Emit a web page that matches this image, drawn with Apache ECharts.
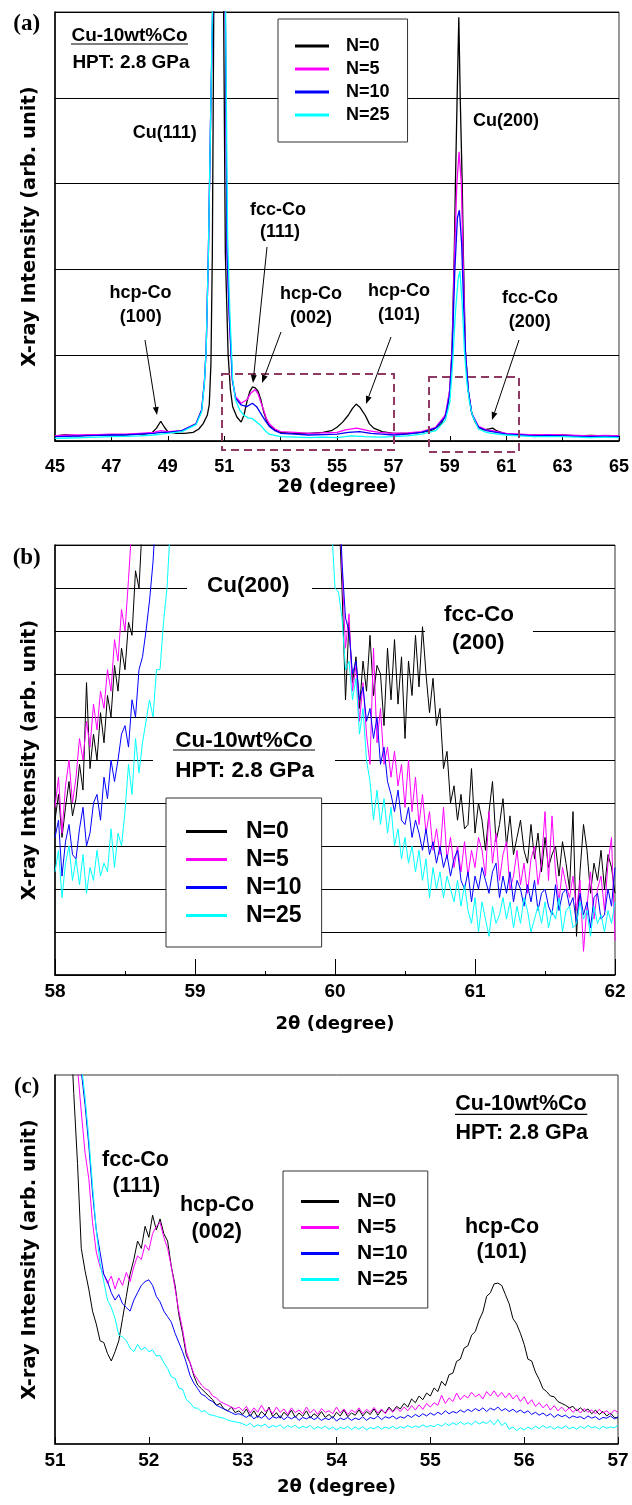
<!DOCTYPE html>
<html>
<head>
<meta charset="utf-8">
<script src="https://cdn.jsdelivr.net/npm/echarts@6.0.0/dist/echarts.min.js"></script>
<style>html,body{margin:0;padding:0;background:#fff;} #chart{width:632px;height:1505px;}</style>
</head>
<body>
<div id="chart"></div>
<script>
// series names / colours
var names = ['N=0', 'N=5', 'N=10', 'N=25'];
var colors = ['#000000', '#ff00ff', '#0000ff', '#00ffff'];

// ---- panel (a): full scan 45-65 deg, [2theta, intensity]
var aN0 = [[45.0,0.06],[45.4,0.075],[45.8,0.06],[46.2,0.07],[46.6,0.065],[47.0,0.075],[47.4,0.07],[47.8,0.08],[48.2,0.08],[48.45,0.1],[48.6,0.15],[48.75,0.23],[48.88,0.16],[49.0,0.11],[49.3,0.09],[49.6,0.09],[49.9,0.1],[50.1,0.14],[50.25,0.2],[50.4,0.3],[50.47,0.42],[50.53,0.9],[50.58,2.2],[50.63,5.0],[50.72,10],[50.82,13],[50.92,8],[50.98,5.0],[51.04,2.2],[51.14,1.0],[51.22,0.6],[51.3,0.4],[51.45,0.28],[51.6,0.22],[51.7,0.3],[51.8,0.45],[51.9,0.57],[52.0,0.63],[52.1,0.62],[52.2,0.58],[52.3,0.48],[52.4,0.34],[52.5,0.24],[52.6,0.18],[52.8,0.13],[53.0,0.1],[53.5,0.09],[54.0,0.09],[54.5,0.1],[54.8,0.12],[55.0,0.16],[55.2,0.22],[55.4,0.3],[55.55,0.38],[55.68,0.43],[55.82,0.39],[56.0,0.3],[56.15,0.2],[56.3,0.15],[56.6,0.11],[57.0,0.09],[57.5,0.09],[58.0,0.1],[58.4,0.13],[58.7,0.2],[58.9,0.35],[59.0,0.6],[59.08,1.06],[59.16,2.2],[59.2,3.0],[59.26,4.0],[59.32,4.94],[59.37,4.0],[59.44,3.0],[59.48,2.2],[59.55,1.06],[59.65,0.6],[59.78,0.32],[59.9,0.22],[60.02,0.16],[60.2,0.13],[60.4,0.14],[60.52,0.15],[60.65,0.12],[61.0,0.08],[61.5,0.07],[62.0,0.07],[62.5,0.065],[63.0,0.07],[63.5,0.06],[64.0,0.065],[64.5,0.06],[65.0,0.06]];
var aN5 = [[45,0.06],[45.5,0.07],[46,0.07],[46.5,0.075],[47,0.08],[47.5,0.08],[48,0.09],[48.5,0.1],[48.75,0.12],[49,0.11],[49.5,0.12],[50.0,0.2],[50.2,0.36],[50.3,0.7],[50.36,1.06],[50.44,2.2],[50.52,3.8],[50.59,5.0],[50.7,9],[50.82,12],[50.95,8],[51.04,5.0],[51.1,2.2],[51.18,1.45],[51.29,0.71],[51.4,0.52],[51.6,0.44],[51.8,0.48],[51.95,0.56],[52.1,0.6],[52.2,0.55],[52.3,0.45],[52.4,0.36],[52.5,0.26],[52.6,0.2],[52.8,0.14],[53.0,0.11],[53.5,0.1],[54.0,0.09],[54.5,0.095],[55.0,0.1],[55.3,0.13],[55.7,0.15],[56.1,0.12],[56.5,0.1],[57,0.09],[57.5,0.095],[58,0.11],[58.5,0.16],[58.84,0.3],[59.0,0.6],[59.08,1.06],[59.17,2.2],[59.25,3.0],[59.33,3.37],[59.41,3.0],[59.48,2.0],[59.55,1.06],[59.65,0.6],[59.78,0.32],[60.02,0.17],[60.3,0.13],[60.5,0.12],[61,0.09],[61.5,0.08],[62,0.07],[62.5,0.075],[63,0.07],[63.5,0.065],[64,0.06],[64.5,0.065],[65,0.06]];
var aN10 = [[45,0.05],[45.5,0.055],[46,0.06],[46.5,0.065],[47,0.07],[47.5,0.07],[48,0.08],[48.5,0.09],[48.75,0.1],[49,0.1],[49.5,0.12],[50.0,0.2],[50.2,0.36],[50.3,0.7],[50.36,1.06],[50.44,2.2],[50.52,3.8],[50.59,5.0],[50.7,9],[50.82,12],[50.95,8],[51.04,5.0],[51.1,2.2],[51.18,1.45],[51.29,0.71],[51.4,0.5],[51.6,0.42],[51.8,0.4],[52.0,0.44],[52.15,0.4],[52.3,0.32],[52.45,0.24],[52.6,0.17],[52.8,0.12],[53.0,0.09],[53.5,0.08],[54,0.07],[54.5,0.075],[55,0.08],[55.4,0.1],[55.8,0.11],[56.2,0.09],[56.6,0.08],[57,0.07],[57.5,0.08],[58,0.1],[58.5,0.15],[58.84,0.28],[59.0,0.55],[59.08,1.0],[59.18,2.0],[59.27,2.6],[59.34,2.69],[59.42,2.3],[59.5,1.5],[59.56,1.0],[59.66,0.58],[59.78,0.32],[60.02,0.16],[60.3,0.12],[60.5,0.11],[61,0.08],[61.5,0.07],[62,0.06],[62.5,0.065],[63,0.06],[63.5,0.055],[64,0.05],[64.5,0.055],[65,0.05]];
var aN25 = [[45,0.03],[45.5,0.035],[46,0.04],[46.5,0.045],[47,0.05],[47.5,0.055],[48,0.06],[48.5,0.07],[48.75,0.08],[49,0.09],[49.5,0.11],[50.0,0.19],[50.2,0.34],[50.3,0.68],[50.36,1.06],[50.44,2.2],[50.52,3.8],[50.58,5.0],[50.7,9],[50.82,12],[50.96,8],[51.05,5.0],[51.12,2.4],[51.2,1.5],[51.3,0.72],[51.4,0.48],[51.55,0.36],[51.7,0.3],[51.85,0.27],[52.0,0.26],[52.15,0.22],[52.3,0.18],[52.45,0.12],[52.6,0.08],[53.0,0.05],[53.5,0.045],[54,0.04],[54.5,0.045],[55,0.04],[55.5,0.06],[56,0.05],[56.5,0.045],[57,0.05],[57.5,0.06],[58,0.08],[58.5,0.12],[58.84,0.24],[59.0,0.45],[59.1,0.9],[59.2,1.5],[59.3,1.9],[59.36,1.98],[59.44,1.6],[59.52,1.05],[59.6,0.7],[59.7,0.45],[59.8,0.3],[60.02,0.14],[60.3,0.1],[60.5,0.09],[61,0.07],[61.5,0.06],[62,0.05],[62.5,0.05],[63,0.05],[63.5,0.045],[64,0.04],[64.5,0.045],[65,0.04]];

// ---- panel (b): 58-62 deg, one value every 0.025 deg (14 = off scale, above the frame)
var bStart = 58, bStep = 0.025;
var bN0 = [
3.6,4.2,3.2,3.9,4.5,3.7,4.1,4.9,4.3,6.8,
4.8,5.6,5.0,6.1,5.4,6.5,6.0,7.2,6.6,7.6,
7.1,8.2,7.9,9.4,9.0,10.6,12,14,14,14,
14,14,14,14,14,14,14,14,14,14,
14,14,14,14,14,14,14,14,14,14,
14,14,14,14,14,14,14,14,14,14,
14,14,14,14,14,14,14,14,14,14,
14,14,14,14,14,14,14,14,14,14,
14,11,9.0,6.4,8.2,6.8,7.4,6.2,7.3,6.6,
7.9,6.5,7.2,7.0,5.8,7.6,6.4,7.8,6.3,7.4,
5.5,7.3,6.5,7.9,6.7,8.1,7.0,6.1,6.9,5.8,
6.2,4.8,5.2,4.0,4.4,3.6,4.2,3.4,3.5,4.8,
3.3,4.0,3.6,2.9,3.8,4.5,3.1,3.5,4.1,3.0,
3.7,2.8,3.2,3.6,2.9,2.6,3.5,2.7,3.3,2.4,
3.2,2.5,2.8,3.0,2.3,3.1,2.6,2.0,3.8,0.9,
2.4,3.5,2.9,1.9,2.6,2.2,2.9,2.0,2.8,2.5,
1.9];
var bN5 = [
3.9,4.6,3.3,4.4,5.0,4.0,4.6,5.5,5.0,5.9,
5.3,6.3,5.7,6.6,6.2,7.1,6.6,7.8,7.3,8.5,
8.0,9.2,10.5,12,14,14,14,14,14,14,
14,14,14,14,14,14,14,14,14,14,
14,14,14,14,14,14,14,14,14,14,
14,14,14,14,14,14,14,14,14,14,
14,14,14,14,14,14,14,14,14,14,
14,14,14,14,14,14,14,14,14,14,
14,11.5,9.5,7.6,8.4,6.6,7.2,5.9,6.8,5.6,
4.9,7.6,5.4,6.2,4.9,5.3,4.6,5.2,4.4,4.9,
3.9,5.0,3.8,4.6,3.5,4.2,3.3,3.8,2.9,3.4,
2.8,3.9,2.7,3.2,2.5,3.0,2.4,3.1,2.3,2.9,
2.5,3.2,2.9,2.3,3.8,2.6,3.3,2.2,2.8,3.1,
2.0,2.3,2.9,2.1,2.6,1.9,2.7,3.0,2.1,2.6,
3.8,2.2,3.7,2.4,1.7,2.5,2.1,1.8,2.3,1.5,
2.2,0.55,1.6,2.4,1.3,2.0,2.3,1.5,2.6,3.2,
0.8];
var bN10 = [
3.2,3.6,2.3,3.1,3.5,2.8,2.7,3.4,3.9,3.0,
3.3,4.0,4.2,3.6,4.6,4.1,5.0,4.5,5.0,5.6,
5.8,5.3,6.4,6.0,7.1,7.4,8.0,8.7,9.6,11,
13,14,14,14,14,14,14,14,14,14,
14,14,14,14,14,14,14,14,14,14,
14,14,14,14,14,14,14,14,14,14,
14,14,14,14,14,14,14,14,14,14,
14,14,14,14,14,14,14,14,14,14,
14,12,9.6,8.3,8.0,7.0,7.3,6.4,6.7,5.9,
6.2,5.5,6.0,4.9,5.3,4.5,4.2,3.8,4.3,3.6,
3.5,3.9,3.2,3.6,3.3,2.9,3.4,2.8,3.1,2.6,
3.0,2.5,2.8,2.3,2.7,2.9,2.2,2.0,2.4,1.7,
2.3,2.0,2.5,2.2,1.9,2.4,2.6,1.8,2.3,1.9,
2.4,1.7,2.2,2.0,1.6,2.1,1.7,2.2,1.5,1.9,
2.0,1.6,1.4,2.1,1.5,1.9,2.0,1.6,1.8,1.2,
1.9,1.4,1.7,1.1,1.8,1.9,1.3,1.4,2.0,1.6,
2.5];
var bN25 = [
2.4,2.9,1.8,2.6,3.0,2.2,2.7,2.1,2.8,1.9,
2.5,2.2,2.9,2.3,2.6,2.4,3.4,2.5,3.3,3.0,
3.8,4.9,4.2,5.5,4.7,5.4,5.9,6.4,6.0,7.1,
7.1,8.2,9.0,10.5,12,14,14,14,14,14,
14,14,14,14,14,14,14,14,14,14,
14,14,14,14,14,14,14,14,14,14,
14,14,14,14,14,14,14,14,14,14,
14,14,14,14,14,14,14,14,14,10.5,
9.0,8.9,8.3,7.1,7.3,6.4,6.9,5.6,6.2,5.0,
4.5,3.6,4.3,3.5,4.1,3.3,3.9,3.0,3.4,2.7,
3.2,2.6,3.0,2.4,2.9,2.2,2.7,1.8,2.5,2.0,
2.4,1.8,2.3,2.0,1.7,2.2,1.6,2.1,1.5,1.2,
1.8,1.0,1.7,1.3,0.9,1.6,1.2,1.4,1.8,1.3,
1.7,1.1,1.6,1.2,1.8,1.5,1.0,1.3,1.6,1.2,
1.7,1.1,1.5,1.3,1.8,1.0,1.5,1.6,1.1,1.2,
1.7,1.3,1.5,0.9,1.6,1.2,1.4,1.0,1.5,1.2,
1.7];

// ---- panel (c): 51-57 deg, one value every 0.04 deg
var cStart = 51, cStep = 0.04;
var cN0 = [
20,18,16,13.5,11.6,9.5,7.6,5.3,4.7,4.2,
3.6,3.25,2.8,2.75,2.45,2.25,2.5,2.8,3.4,4.0,
4.6,5.0,5.5,5.3,5.9,5.6,6.2,5.8,6.1,5.7,
5.5,4.8,4.3,3.5,3.0,2.4,2.2,1.85,1.6,1.5,
1.4,1.3,1.2,1.05,1.1,0.95,0.9,1.0,0.85,0.9,
0.80,0.95,0.75,0.90,0.72,0.88,0.78,1.00,0.74,0.85,
0.70,0.86,0.76,0.92,0.72,0.84,0.75,0.90,0.70,0.82,
0.74,0.88,0.72,0.80,0.70,0.86,0.76,0.92,0.74,0.84,
0.78,0.93,0.76,0.88,0.80,0.95,0.78,0.92,0.84,1.00,
0.88,1.02,0.95,1.10,1.00,1.22,1.12,1.30,1.20,1.38,
1.30,1.52,1.42,1.70,1.58,1.88,1.92,2.24,2.30,2.60,
2.66,2.95,3.05,3.36,3.58,4.00,4.10,4.34,4.36,4.30,
4.05,3.80,3.40,3.25,3.00,2.70,2.30,2.25,1.95,1.75,
1.50,1.42,1.30,1.28,1.15,1.10,1.05,0.98,1.02,0.90,
0.98,0.88,0.95,0.82,0.92,0.80,0.88,0.76,0.84,0.72,
0.70];
var cN5 = [
22,20,17,14,12,11,10.2,9.0,7.9,7.2,
6.0,5.2,4.8,4.6,4.35,4.55,4.2,4.5,4.3,4.65,
4.4,4.8,5.1,5.0,5.4,5.25,5.7,5.9,6.0,5.6,
5.3,4.8,4.2,3.6,3.1,2.5,2.2,1.9,1.75,1.6,
1.5,1.45,1.3,1.25,1.15,1.1,1.05,1.0,0.95,1.0,
0.90,1.02,0.84,0.98,0.86,1.05,0.88,0.96,0.82,1.00,
0.86,0.95,0.80,0.98,0.85,0.92,0.82,1.00,0.84,0.94,
0.80,0.96,0.86,0.90,0.82,1.00,0.84,0.95,0.80,0.92,
0.85,0.98,0.82,0.94,0.86,0.99,0.84,0.95,0.82,0.96,
0.86,0.98,0.88,1.00,0.90,1.04,0.92,1.06,0.94,1.10,
1.00,1.12,1.05,1.32,1.10,1.25,1.15,1.38,1.20,1.32,
1.25,1.40,1.28,1.35,1.22,1.42,1.30,1.44,1.28,1.40,
1.25,1.38,1.22,1.33,1.15,1.28,1.08,1.20,1.02,1.12,
0.98,1.08,0.92,1.04,0.90,1.00,0.88,0.98,0.86,0.95,
0.84,0.96,0.86,0.92,0.82,0.94,0.84,0.90,0.80,0.92,
0.86];
var cN10 = [
22,20,17,14.5,12.5,11.2,10.6,10.1,9.2,8.1,
6.8,5.8,5.2,4.6,4.4,4.1,3.9,4.05,3.8,3.7,
3.6,3.9,4.1,4.3,4.4,4.45,4.3,4.0,3.85,3.6,
3.45,3.3,3.0,2.75,2.5,2.2,1.85,1.65,1.5,1.35,
1.3,1.2,1.15,1.05,1.0,0.95,0.9,0.85,0.8,0.82,
0.78,0.72,0.80,0.68,0.76,0.70,0.78,0.66,0.74,0.70,
0.76,0.66,0.74,0.68,0.75,0.64,0.72,0.68,0.74,0.66,
0.72,0.64,0.70,0.66,0.74,0.62,0.70,0.66,0.72,0.64,
0.70,0.66,0.74,0.64,0.72,0.68,0.76,0.66,0.74,0.70,
0.76,0.68,0.74,0.70,0.78,0.72,0.80,0.74,0.82,0.76,
0.84,0.78,0.86,0.80,0.90,0.82,0.88,0.84,0.92,0.86,
0.94,0.88,0.96,0.90,0.98,0.88,0.97,0.92,1.00,0.90,
0.96,0.88,0.94,0.86,0.92,0.84,0.90,0.80,0.86,0.78,
0.84,0.76,0.82,0.72,0.80,0.74,0.78,0.70,0.76,0.72,
0.74,0.68,0.76,0.70,0.74,0.66,0.72,0.70,0.76,0.68,
0.74];
var cN25 = [
22,20,17,14.5,12.5,11.3,10.8,10.3,9.4,8.3,
7.0,5.8,4.9,4.4,3.9,3.7,3.4,2.95,2.9,2.8,
2.6,2.5,2.7,2.55,2.62,2.5,2.55,2.38,2.4,2.2,
2.05,1.82,1.78,1.52,1.48,1.2,1.12,0.98,0.97,0.88,
0.9,0.8,0.78,0.75,0.72,0.7,0.65,0.62,0.6,0.58,
0.55,0.50,0.56,0.46,0.52,0.48,0.54,0.44,0.50,0.46,
0.52,0.42,0.50,0.45,0.51,0.42,0.48,0.44,0.50,0.40,
0.47,0.42,0.49,0.40,0.46,0.38,0.45,0.41,0.48,0.39,
0.46,0.40,0.47,0.38,0.45,0.41,0.48,0.40,0.46,0.42,
0.48,0.41,0.47,0.43,0.50,0.44,0.49,0.45,0.52,0.46,
0.50,0.47,0.54,0.48,0.56,0.50,0.58,0.52,0.60,0.53,
0.58,0.52,0.62,0.54,0.60,0.55,0.64,0.52,0.66,0.50,
0.58,0.40,0.46,0.36,0.44,0.38,0.46,0.40,0.48,0.42,
0.50,0.43,0.48,0.40,0.47,0.42,0.49,0.41,0.46,0.40,
0.48,0.42,0.50,0.44,0.47,0.40,0.48,0.43,0.46,0.44,
0.50];

var FONT = '"Liberation Sans", Arial, Helvetica, sans-serif';
var WIDE = '"DejaVu Sans", Verdana, sans-serif';
var SERIF = '"Liberation Serif", "Times New Roman", serif';

function toPairs(vals, start, step){
	var out = [];
	for(var i=0; i<vals.length; i++){
		out.push([+(start + i*step).toFixed(3), vals[i]]);
	}
	return out;
}

function lineSeries(name, color, data, idx, width){
	return {
		name: name, type: 'line', xAxisIndex: idx, yAxisIndex: idx,
		data: data, symbol: 'none', showSymbol: false, silent: true,
		lineStyle: {color: color, width: width}, itemStyle: {color: color}
	};
}

var panels = [
	[aN0, aN5, aN10, aN25],
	[toPairs(bN0,bStart,bStep), toPairs(bN5,bStart,bStep), toPairs(bN10,bStart,bStep), toPairs(bN25,bStart,bStep)],
	[toPairs(cN0,cStart,cStep), toPairs(cN5,cStart,cStep), toPairs(cN10,cStart,cStep), toPairs(cN25,cStart,cStep)]
];
var widths = [1.3, 1, 1];
var series = [];
for(var p=0; p<3; p++){
	for(var s=0; s<4; s++){
		series.push(lineSeries(names[s], colors[s], panels[p][s], p, widths[p]));
	}
}

function titleStyle(fs){
	return {fontFamily: WIDE, fontWeight: 'bold', fontSize: fs, lineHeight: fs, color: '#000'};
}

function xAxis(idx, min, max, interval, tickLen, fs, margin, gap, minor){
	return {
		gridIndex: idx, type: 'value', min: min, max: max, interval: interval,
		axisLine: {lineStyle: {color: '#000', width: 1.5}},
		axisTick: {inside: true, length: tickLen, lineStyle: {color: '#000', width: 1}},
		minorTick: {show: !!minor, splitNumber: 2, length: 4, lineStyle: {color: '#000', width: 1}},
		axisLabel: {fontFamily: FONT, fontWeight: 'bold', fontSize: fs, lineHeight: fs, color: '#000', margin: margin},
		splitLine: {show: false},
		name: '2\u03b8 (degree)', nameLocation: 'middle', nameGap: gap, nameTextStyle: titleStyle(18)
	};
}
function yAxis(idx, max, grid){
	return {
		gridIndex: idx, type: 'value', min: 0, max: max, interval: 1,
		axisLine: {show: true, lineStyle: {color: '#000', width: 1.5}},
		axisTick: {show: false}, axisLabel: {show: false},
		splitLine: {show: grid, lineStyle: {color: '#000', width: 1}},
		name: 'X-ray Intensity (arb. unit)', nameLocation: 'middle', nameGap: 15, nameTextStyle: titleStyle(19.5)
	};
}
function legend(left, top, padding, itemW, fs, textPad){
	return {
		orient: 'vertical', left: left, top: top, padding: padding,
		icon: 'rect', itemWidth: itemW, itemHeight: 3, itemGap: 5, selectedMode: false,
		backgroundColor: '#fff', borderColor: '#333', borderWidth: 1,
		textStyle: {fontFamily: FONT, fontWeight: 'bold', fontSize: fs, lineHeight: fs, color: '#000', padding: [0,0,0,textPad]},
		data: names
	};
}

// annotation helpers
function txt(s, x, y, size, fam){
	return {type: 'text', z: 20, style: {text: s, x: x, y: y, fill: '#000',
		font: 'bold ' + size + 'px ' + (fam || FONT),
		textAlign: 'center', textVerticalAlign: 'middle', align: 'center', verticalAlign: 'middle'}};
}
function uline(x1, x2, y){
	return {type: 'line', z: 20, shape: {x1: x1, y1: y, x2: x2, y2: y}, style: {stroke: '#000', lineWidth: 1.2}};
}
function whiteBox(x, y, w, h){
	return {type: 'rect', z: 1, shape: {x: x, y: y, width: w, height: h}, style: {fill: '#fff'}};
}
function dashBox(x, y, w, h){
	return {type: 'rect', z: 20, shape: {x: x, y: y, width: w, height: h},
		style: {fill: 'none', stroke: '#8e3a63', lineWidth: 2, lineDash: [8, 5]}};
}
function arrow(x1, y1, x2, y2){
	var dx = x2-x1, dy = y2-y1, L = Math.sqrt(dx*dx+dy*dy), ux = dx/L, uy = dy/L;
	var hl = 8, hw = 3, bx = x2-ux*hl, by = y2-uy*hl;
	return [
		{type: 'line', z: 20, shape: {x1: x1, y1: y1, x2: bx, y2: by}, style: {stroke: '#000', lineWidth: 1}},
		{type: 'polygon', z: 20, shape: {points: [[x2,y2],[bx-uy*hw, by+ux*hw],[bx+uy*hw, by-ux*hw]]}, style: {fill: '#000'}}
	];
}

var els = [
	// panel (a)
	txt('(a)', 26.7, 24, 23, SERIF),
	txt('Cu-10wt%Co', 129.5, 35.5, 19), uline(71, 188, 44),
	txt('HPT: 2.8 GPa', 131, 62.5, 19),
	txt('Cu(111)', 164.7, 133, 18),
	txt('Cu(200)', 506, 121.3, 18),
	txt('fcc-Co', 278, 210, 18), txt('(111)', 280, 231.7, 18),
	txt('hcp-Co', 140.5, 293, 18), txt('(100)', 140.8, 316.7, 18),
	txt('hcp-Co', 311, 294, 18), txt('(002)', 311, 318, 18),
	txt('hcp-Co', 399, 291, 18), txt('(101)', 399, 315, 18),
	txt('fcc-Co', 530, 298.5, 18), txt('(200)', 529.7, 321.7, 18),
	dashBox(222, 374, 172, 76), dashBox(429, 377, 90, 75),
	// panel (b)
	txt('(b)', 26.7, 558, 23, SERIF),
	whiteBox(187, 576, 125, 22), txt('Cu(200)', 248.3, 586, 22.5),
	whiteBox(425, 600, 108, 60), txt('fcc-Co', 479, 615, 22.5), txt('(200)', 478.3, 643, 22.5),
	whiteBox(153, 728, 182, 56),
	txt('Cu-10wt%Co', 244, 741, 22.5), uline(173, 315, 750),
	txt('HPT: 2.8 GPa', 244.7, 770.5, 22.5),
	// panel (c)
	txt('(c)', 26.7, 1087.5, 23, SERIF),
	txt('Cu-10wt%Co', 521, 1104, 21.5), uline(455, 587.3, 1114.3),
	txt('HPT: 2.8 GPa', 521.7, 1133, 21.5),
	txt('fcc-Co', 135.5, 1160, 21.5), txt('(111)', 136.3, 1186, 21.5),
	txt('hcp-Co', 217, 1205.5, 21.5), txt('(002)', 216.7, 1232.5, 21.5),
	txt('hcp-Co', 502, 1227, 21.5), txt('(101)', 501.7, 1252, 21.5)
];
els = els.concat(arrow(145, 340, 157, 415), arrow(267, 247, 253, 383), arrow(281, 332, 262, 383),
	arrow(391, 337, 366, 404), arrow(519, 340, 492, 420));

var option = {
	animation: false,
	backgroundColor: '#fff',
	grid: [
		{left: 55, top: 12, width: 566, height: 429, show: true, borderColor: '#333', borderWidth: 1},
		{left: 55, top: 545, width: 560, height: 430, show: true, borderColor: '#333', borderWidth: 1},
		{left: 55, top: 1075, width: 563, height: 369, show: true, borderColor: '#333', borderWidth: 1}
	],
	xAxis: [
		xAxis(0, 45, 65, 2, 5, 18, 17, 37, false),
		xAxis(1, 58, 62, 1, 16, 19, 7, 40, true),
		xAxis(2, 51, 57, 1, 7, 19, 7, 34, false)
	],
	yAxis: [yAxis(0, 5, true), yAxis(1, 10, true), yAxis(2, 10, false)],
	legend: [
		legend(278, 19, [18,18,18,17], 34, 18, 12),
		legend(166, 798, [22,20,20,20], 41, 23, 14),
		legend(283, 1171, [20,20,18,18], 38, 21, 13)
	],
	graphic: {elements: els},
	series: series
};

var myChart = echarts.init(document.getElementById('chart'));
myChart.setOption(option);
</script>
</body>
</html>
